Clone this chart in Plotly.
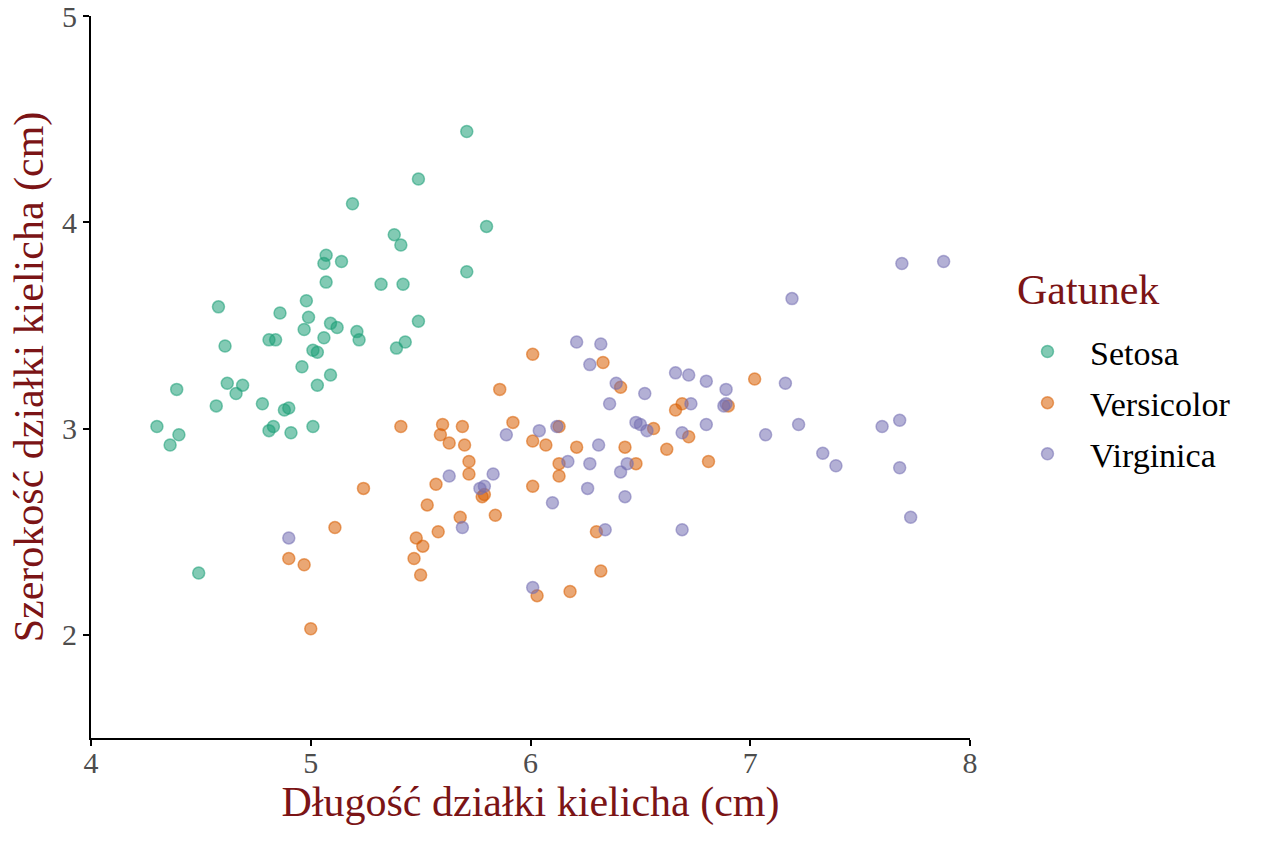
import plotly.graph_objects as go

# Iris data (jittered)
setosa_x = [5.71, 5.49, 5.19, 5.80, 5.38, 5.41, 5.07, 5.06, 5.14, 5.71,
            5.07, 5.32, 5.42, 4.58, 4.98, 4.86, 4.99, 5.09, 5.12, 5.49,
            4.97, 5.21, 5.22, 5.06, 5.43, 5.39, 4.81, 4.84, 4.61, 5.01,
            5.03, 4.96, 5.09, 5.03, 4.39, 4.62, 4.69, 4.66, 4.57, 4.78,
            4.88, 4.90, 4.30, 4.40, 4.36, 4.81, 4.83, 4.91, 5.01, 4.49]
setosa_y = [4.44, 4.21, 4.09, 3.98, 3.94, 3.89, 3.84, 3.80, 3.81, 3.76,
            3.71, 3.70, 3.70, 3.59, 3.62, 3.56, 3.54, 3.51, 3.49, 3.52,
            3.48, 3.47, 3.43, 3.44, 3.42, 3.39, 3.43, 3.43, 3.40, 3.38,
            3.37, 3.30, 3.26, 3.21, 3.19, 3.22, 3.21, 3.17, 3.11, 3.12,
            3.09, 3.10, 3.01, 2.97, 2.92, 2.99, 3.01, 2.98, 3.01, 2.30]

versicolor_x = [5.41, 5.24, 5.53, 5.11, 4.90, 4.97, 5.48, 5.51, 5.47, 5.50,
                5.00, 6.01, 6.33, 6.41, 5.86, 5.60, 5.69, 5.59, 5.63, 5.70,
                5.92, 6.01, 6.07, 6.21, 6.43, 6.48, 6.13, 6.13, 5.72, 5.72,
                5.57, 6.01, 5.78, 5.79, 5.84, 5.68, 5.58, 6.30, 6.32, 6.03,
                6.18, 7.02, 6.66, 6.69, 6.90, 6.56, 6.72, 6.62, 6.81, 6.13]
versicolor_y = [3.01, 2.71, 2.63, 2.52, 2.37, 2.34, 2.47, 2.43, 2.37, 2.29,
                2.03, 3.36, 3.32, 3.20, 3.19, 3.02, 3.01, 2.97, 2.93, 2.92,
                3.03, 2.94, 2.92, 2.91, 2.91, 2.83, 2.83, 2.77, 2.84, 2.78,
                2.73, 2.72, 2.67, 2.68, 2.58, 2.57, 2.50, 2.50, 2.31, 2.19,
                2.21, 3.24, 3.09, 3.12, 3.11, 3.00, 2.96, 2.90, 2.84, 3.01]

virginica_x = [4.90, 6.21, 6.32, 6.27, 6.39, 6.52, 6.36, 6.48, 6.50, 6.53,
               6.04, 6.12, 5.89, 6.31, 6.17, 6.27, 6.44, 6.41, 5.63, 5.83,
               5.79, 5.77, 6.26, 6.10, 6.43, 5.69, 6.34, 6.01, 6.66, 6.72,
               6.80, 6.89, 6.73, 6.88, 6.89, 6.69, 6.80, 6.69, 7.19, 7.16,
               7.07, 7.22, 7.60, 7.68, 7.33, 7.39, 7.68, 7.73, 7.69, 7.88]
virginica_y = [2.47, 3.42, 3.41, 3.31, 3.22, 3.17, 3.12, 3.03, 3.02, 2.99,
               2.99, 3.01, 2.97, 2.92, 2.84, 2.83, 2.83, 2.79, 2.77, 2.78,
               2.72, 2.71, 2.71, 2.64, 2.67, 2.52, 2.51, 2.23, 3.27, 3.26,
               3.23, 3.19, 3.12, 3.11, 3.12, 2.98, 3.02, 2.51, 3.63, 3.22,
               2.97, 3.02, 3.01, 3.04, 2.88, 2.82, 2.81, 2.57, 3.80, 3.81]

species = ["Setosa", "Versicolor", "Virginica"]
colors = ["rgba(27,158,119,0.55)", "rgba(217,95,2,0.55)", "rgba(117,112,179,0.55)"]

title_red = "#7b1416"
serif = "Liberation Serif"

fig = go.Figure()
for name, xs, ys, col in zip(species,
                             [setosa_x, versicolor_x, virginica_x],
                             [setosa_y, versicolor_y, virginica_y],
                             colors):
    fig.add_trace(go.Scatter(
        x=xs, y=ys, mode="markers", name=name, legendgroup=name,
        marker=dict(size=12, color=col, line=dict(color=col, width=1.5)),
    ))

# legend title drawn as a separate text so it can sit apart from the items
fig.add_annotation(
    text="Gatunek", xref="paper", yref="paper", x=1.051, y=0.6205,
    xanchor="left", yanchor="middle", showarrow=False,
    font=dict(family=serif, size=42, color=title_red),
)

fig.update_layout(
    width=1264, height=843,
    margin=dict(l=91, r=294, t=16, b=105),
    paper_bgcolor="white", plot_bgcolor="white",
    font=dict(family=serif, size=30, color="#4d4d4d"),
    legend=dict(
        font=dict(family=serif, size=34, color="black"),
        x=1.0398, y=0.575, xanchor="left", yanchor="top",
        itemwidth=75, tracegroupgap=4,
    ),
)
fig.update_xaxes(
    range=[4, 8], tickvals=[4, 5, 6, 7, 8], showgrid=False, zeroline=False,
    showline=True, linecolor="black", linewidth=2,
    ticks="outside", ticklen=6, tickwidth=2, tickcolor="black",
    tickfont=dict(family=serif, size=30, color="#4d4d4d"),
    ticklabelstandoff=-9, ticklabeloverflow="allow", automargin=False,
    title=dict(text="Długość działki kielicha (cm)", standoff=0,
               font=dict(family=serif, size=42, color=title_red)),
)
fig.update_yaxes(
    range=[1.5, 5], tickvals=[2, 3, 4, 5], showgrid=False, zeroline=False,
    showline=True, linecolor="black", linewidth=2,
    ticks="outside", ticklen=6, tickwidth=2, tickcolor="black",
    tickfont=dict(family=serif, size=30, color="#4d4d4d"),
    ticklabeloverflow="allow", automargin=False,
    title=dict(text="Szerokość działki kielicha (cm)", standoff=5,
               font=dict(family=serif, size=42, color=title_red)),
)

# drop the page's default body margin so the figure sits at the window corner
fig.write_html("out.html", config={"displayModeBar": False},
               post_script="document.body.style.margin='0';")
